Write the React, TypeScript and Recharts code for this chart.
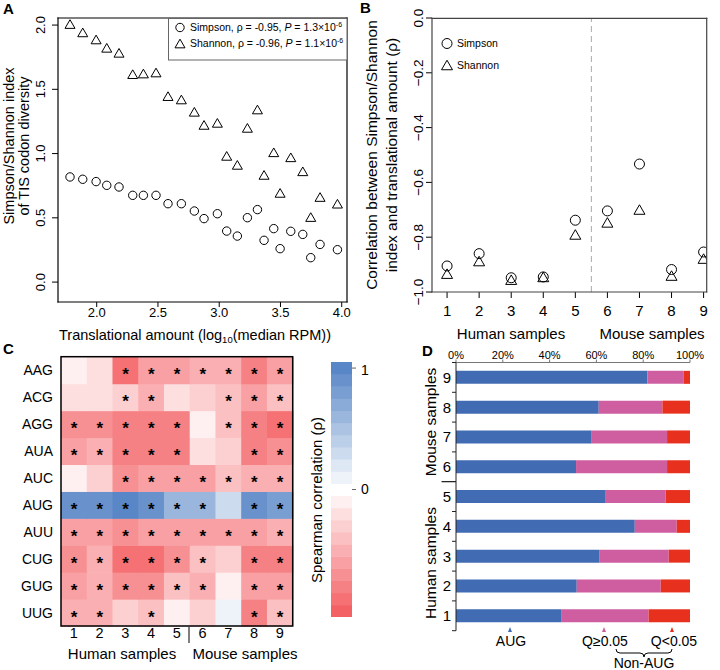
import {
  ScatterChart, Scatter, XAxis, YAxis, ReferenceLine,
  BarChart, Bar,
} from 'recharts'

const FONT = '"Liberation Sans", Arial, Helvetica, sans-serif'

// ---- panel A: diversity vs translational amount
const rpmLog = [1.782, 1.886, 1.995, 2.082, 2.182, 2.294, 2.381, 2.484, 2.582, 2.691, 2.797, 2.876, 2.985,
  3.061, 3.148, 3.230, 3.312, 3.366, 3.445, 3.497, 3.584, 3.682, 3.747, 3.823, 3.965]
const simpsonIdx = [0.818, 0.80, 0.782, 0.753, 0.740, 0.675, 0.675, 0.675, 0.61, 0.61, 0.553, 0.494, 0.532,
  0.397, 0.358, 0.501, 0.564, 0.325, 0.416, 0.26, 0.395, 0.371, 0.19, 0.293, 0.252]
const shannonIdx = [2.008, 1.943, 1.888, 1.823, 1.784, 1.618, 1.623, 1.631, 1.447, 1.421, 1.325, 1.223, 1.239,
  0.982, 0.912, 1.2, 1.343, 0.834, 1.01, 0.694, 0.971, 0.862, 0.506, 0.662, 0.61]
const aTicksX = [2, 2.5, 3, 3.5, 4]
const aTicksY = [0, 0.5, 1, 1.5, 2]

// ---- panel B: per-sample correlations
const sampleIds = [1, 2, 3, 4, 5, 6, 7, 8, 9]
const simpsonRho = [-0.905, -0.86, -0.948, -0.945, -0.738, -0.704, -0.533, -0.918, -0.854]
const shannonRho = [-0.933, -0.887, -0.955, -0.945, -0.79, -0.746, -0.699, -0.94, -0.878]
const bTicksY = [-1, -0.8, -0.6, -0.4, -0.2, 0]

// ---- panel C: heatmap (rows top to bottom)
const codons = ['AAG', 'ACG', 'AGG', 'AUA', 'AUC', 'AUG', 'AUU', 'CUG', 'GUG', 'UUG']
const rhoRows = [
  [-0.06, -0.2, -0.85, -0.6, -0.6, -0.5, -0.45, -0.8, -0.55],
  [-0.18, -0.18, -0.3, -0.5, -0.2, -0.25, -0.35, -0.6, -0.4],
  [-0.7, -0.65, -0.8, -0.8, -0.75, -0.12, -0.35, -0.75, -0.85],
  [-0.55, -0.5, -0.75, -0.75, -0.75, -0.18, -0.25, -0.75, -0.65],
  [-0.1, -0.25, -0.65, -0.55, -0.55, -0.6, -0.4, -0.5, -0.45],
  [0.85, 0.85, 0.95, 0.9, 0.6, 0.55, 0.3, 0.85, 0.75],
  [-0.55, -0.55, -0.65, -0.6, -0.55, -0.55, -0.55, -0.55, -0.45],
  [-0.7, -0.45, -0.85, -0.9, -0.65, -0.4, -0.3, -0.75, -0.75],
  [-0.55, -0.45, -0.65, -0.7, -0.35, -0.45, -0.1, -0.55, -0.6],
  [-0.5, -0.5, -0.25, -0.4, -0.05, -0.3, 0.1, -0.75, -0.4],
]
const sigCols = [
  [3, 4, 5, 6, 7, 8, 9],
  [3, 4, 7, 8, 9],
  [1, 2, 3, 4, 5, 7, 8, 9],
  [1, 2, 3, 4, 5, 8, 9],
  [3, 4, 5, 6, 7, 8, 9],
  [1, 2, 3, 4, 5, 6, 8, 9],
  [1, 2, 3, 4, 5, 6, 7, 8, 9],
  [1, 2, 3, 4, 5, 6, 8, 9],
  [1, 2, 3, 4, 5, 6, 8, 9],
  [1, 2, 4, 8, 9],
]
const cbarSteps = [-1, -0.9, -0.8, -0.7, -0.6, -0.5, -0.4, -0.3, -0.2, -0.1, 0,
  0.1, 0.2, 0.3, 0.4, 0.5, 0.6, 0.7, 0.8, 0.9, 1]

// ---- panel D: TIS codon composition (%)
const augPct = [44.9, 51.6, 61.4, 76.4, 64.0, 51.3, 58.0, 61.0, 81.8]
const qHighPct = [37.4, 35.9, 29.5, 17.9, 25.6, 38.9, 32.2, 27.2, 15.4]
const qLowPct = [17.7, 12.5, 9.1, 5.7, 10.4, 9.8, 9.8, 11.8, 2.8]
const dTicks = [0, 20, 40, 60, 80, 100]

const C_AUG = '#416bb3'
const C_HI = '#cf5ea0'
const C_LO = '#e8301f'

const RED = [244, 97, 101]
const BLUE = [88, 134, 198]
function heatColor(v: number) {
  const k = Math.min(10, Math.round(Math.abs(v) * 10))
  const base = v < 0 ? RED : BLUE
  const c = base.map((b) => Math.round(255 + (b - 255) * (k / 10)))
  return `rgb(${c.join(',')})`
}

const circleShape = (r: number) => (p: any) => (
  <circle cx={p.cx} cy={p.cy} r={r} fill="none" stroke="#000" strokeWidth={1} />
)
const triShape = (w: number) => (p: any) => {
  const h = w * 0.866
  return (
    <path
      d={`M${p.cx},${p.cy - h / 2}L${p.cx + w / 2},${p.cy + h / 2}L${p.cx - w / 2},${p.cy + h / 2}Z`}
      fill="none" stroke="#000" strokeWidth={1}
    />
  )
}

const rotTick = (fontSize: number, fmt: (v: number) => string) => (p: any) => (
  <text x={p.x} y={p.y} transform={`rotate(-90 ${p.x} ${p.y})`} textAnchor="middle" fontSize={fontSize} fill="#000">
    {fmt(p.payload.value)}
  </text>
)

function PanelA() {
  const simpson = rpmLog.map((x, i) => ({ x, y: simpsonIdx[i] }))
  const shannon = rpmLog.map((x, i) => ({ x, y: shannonIdx[i] }))
  return (
    <ScatterChart width={360} height={345} margin={{ top: 18, right: 13, bottom: 0, left: 0 }}>
      <XAxis type="number" dataKey="x" domain={[1.684, 4.043]} ticks={aTicksX} tickFormatter={(v: number) => v.toFixed(1)}
        height={43} tickSize={5} tickMargin={1} axisLine={false} tickLine={{ stroke: '#000' }}
        tick={{ fontSize: 13, fill: '#000' }} allowDataOverflow />
      <YAxis type="number" dataKey="y" domain={[-0.155, 2.055]} ticks={aTicksY} width={58} tickSize={6} tickMargin={7}
        axisLine={false} tickLine={{ stroke: '#000' }} tick={rotTick(13, (v) => v.toFixed(1))} allowDataOverflow />
      <Scatter data={simpson} shape={circleShape(4.2)} isAnimationActive={false} />
      <Scatter data={shannon} shape={triShape(10)} isAnimationActive={false} />
    </ScatterChart>
  )
}

function PanelB() {
  const simpson = sampleIds.map((x, i) => ({ x, y: simpsonRho[i] }))
  const shannon = sampleIds.map((x, i) => ({ x, y: shannonRho[i] }))
  return (
    <ScatterChart width={360} height={345} margin={{ top: 18, right: 13, bottom: 0, left: 0 }}>
      <XAxis type="number" dataKey="x" domain={[0.53, 9.106]} ticks={sampleIds} height={53} tickSize={6} tickMargin={7}
        axisLine={false} tickLine={{ stroke: '#000' }} tick={{ fontSize: 15, fill: '#000' }} allowDataOverflow />
      <YAxis type="number" dataKey="y" domain={[-1, 0]} ticks={bTicksY} width={72} tickSize={6} tickMargin={3}
        axisLine={false} tickLine={{ stroke: '#000' }}
        tick={rotTick(13.5, (v) => (v < -1e-9 ? '\u2212' : '') + Math.abs(v).toFixed(1))} allowDataOverflow />
      <ReferenceLine x={5.5} stroke="#aaa" strokeDasharray="6 4" />
      <Scatter data={simpson} shape={circleShape(5)} isAnimationActive={false} />
      <Scatter data={shannon} shape={triShape(11)} isAnimationActive={false} />
    </ScatterChart>
  )
}

function PanelC() {
  const table = sampleIds.map((s) => {
    const row: any = { s: String(s) }
    codons.forEach((c) => { row[c] = 1 })
    return row
  })
  const rowOrder = codons.map((_, i) => 9 - i) // bottom row first in the stack
  return (
    <BarChart width={300} height={330} data={table} margin={{ top: 16.7, right: 7.3, bottom: 0, left: 0 }}
      barCategoryGap={0} barGap={0}>
      <XAxis dataKey="s" height={44} tickLine={false} axisLine={false} tickSize={0} tickMargin={2}
        tick={{ fontSize: 14.5, fill: '#000' }} interval={0} />
      <YAxis type="number" domain={[0, 10]} ticks={[0.5, 1.5, 2.5, 3.5, 4.5, 5.5, 6.5, 7.5, 8.5, 9.5]}
        tickFormatter={(v: number) => codons[9 - Math.floor(v)]} width={61} tickLine={false} axisLine={false}
        tickSize={0} tickMargin={8} tick={{ fontSize: 14, fill: '#000' }} />
      {rowOrder.map((ri) => (
        <Bar key={codons[ri]} dataKey={codons[ri]} stackId="h" isAnimationActive={false}
          shape={(p: any) => {
            const col = Number(p.payload.s)
            const sig = sigCols[ri].includes(col)
            return (
              <g>
                <rect x={p.x} y={p.y} width={p.width + 0.6} height={p.height + 0.6} fill={heatColor(rhoRows[ri][col - 1])} />
                {sig && (
                  <text x={p.x + p.width / 2} y={p.y + p.height / 2 + 10} textAnchor="middle" fontSize={17} fontWeight="bold" fill="#000">*</text>
                )}
              </g>
            )
          }} />
      ))}
    </BarChart>
  )
}

function ColorBar() {
  const row: any = { k: 'cb' }
  cbarSteps.forEach((_, i) => { row['b' + i] = 1 })
  const labels: Record<string, string> = { '0.5': '-1', '10.5': '0', '20.5': '1' }
  return (
    <BarChart width={60} height={255} data={[row]} margin={{ top: 0, right: 0, bottom: 0, left: 0 }}
      barCategoryGap={0} barGap={0}>
      <XAxis dataKey="k" hide />
      <YAxis type="number" orientation="right" domain={[0, 21]} ticks={[0.5, 10.5, 20.5]}
        tickFormatter={(v: number) => labels[String(v)]} width={39} tickSize={4} tickMargin={5}
        axisLine={false} tickLine={{ stroke: '#666' }} tick={{ fontSize: 14, fill: '#000' }} />
      {cbarSteps.map((v, i) => (
        <Bar key={i} dataKey={'b' + i} stackId="c" fill={heatColor(v)} isAnimationActive={false}
          shape={(p: any) => <rect x={p.x} y={p.y} width={p.width} height={p.height + 0.5} fill={heatColor(v)} />} />
      ))}
    </BarChart>
  )
}

const D_TOP = 22.5
const D_BOTTOM = 39.3
const D_BAND = (330 - D_TOP - D_BOTTOM) / 9

const dTick = (p: any) => {
  const { x, y, payload } = p
  const v = String(payload.value)
  const yTop = y - D_BAND / 2
  return (
    <g>
      <text x={x - 9} y={y + 5.3} textAnchor="middle" fontSize={15} fill="#000">{v}</text>
      <line x1={x} x2={x - (v === '5' ? 14.3 : 4)} y1={yTop} y2={yTop} stroke="#222" />
      {v === '1' && <line x1={x} x2={x - 4} y1={y + D_BAND / 2} y2={y + D_BAND / 2} stroke="#222" />}
    </g>
  )
}

function PanelD() {
  const table = [...sampleIds].reverse().map((s) => ({
    s: String(s), aug: augPct[s - 1], hi: qHighPct[s - 1], lo: qLowPct[s - 1],
  }))
  return (
    <BarChart layout="vertical" width={360} height={330} data={table}
      margin={{ top: 0, right: 30, bottom: D_BOTTOM, left: 0 }} barCategoryGap="28%">
      <XAxis type="number" orientation="top" domain={[0, 100]} ticks={dTicks} tickFormatter={(v: number) => `${v}%`}
        height={D_TOP} tickSize={3} tickMargin={1} axisLine={{ stroke: '#777' }} tickLine={{ stroke: '#777' }}
        tick={{ fontSize: 11, fill: '#000' }} />
      <YAxis type="category" dataKey="s" width={96} axisLine={{ stroke: '#222' }} tickLine={false}
        tickSize={0} tickMargin={0} tick={dTick} interval={0} />
      <Bar dataKey="aug" stackId="d" fill={C_AUG} isAnimationActive={false} />
      <Bar dataKey="hi" stackId="d" fill={C_HI} isAnimationActive={false} />
      <Bar dataKey="lo" stackId="d" fill={C_LO} isAnimationActive={false} />
    </BarChart>
  )
}

function triPath(cx: number, cy: number, w: number) {
  const h = w * 0.866
  return `M${cx},${cy - h / 2}L${cx + w / 2},${cy + h / 2}L${cx - w / 2},${cy + h / 2}Z`
}

function Frame({ x1, y1, x2, y2, color }: { x1: number; y1: number; x2: number; y2: number; color: string }) {
  return (
    <g stroke={color} strokeWidth={1.2} strokeLinecap="square">
      <line x1={x1} y1={y1} x2={x2} y2={y1} />
      <line x1={x2} y1={y1} x2={x2} y2={y2} />
      <line x1={x2} y1={y2} x2={x1} y2={y2} />
      <line x1={x1} y1={y2} x2={x1} y2={y1} />
    </g>
  )
}

function Overlay() {
  return (
    <svg width={720} height={670} style={{ position: 'absolute', left: 0, top: 0, pointerEvents: 'none' }}
      fontFamily={FONT}>
      {/* panel letters */}
      <g fontWeight="bold" fontSize={15} fill="#000">
        <text x={3} y={13.5}>A</text>
        <text x={360} y={12.5}>B</text>
        <text x={3} y={353.5}>C</text>
        <text x={422} y={355.5}>D</text>
      </g>

      {/* plot frames of A and B */}
      <Frame x1={58} y1={18} x2={347} y2={302} color="#000" />
      <Frame x1={432} y1={18.3} x2={706.7} y2={292} color="#444" />

      {/* A legend */}
      <rect x={168.5} y={18.5} width={178.5} height={41.5} fill="#fff" stroke="#666" />
      <circle cx={180} cy={27.5} r={4.2} fill="none" stroke="#000" />
      <path d={triPath(180, 43.5, 10)} fill="none" stroke="#000" />
      <g fontSize={10.5} fill="#000">
        <text x={190} y={31.3}>Simpson, ρ = -0.95, <tspan fontStyle="italic">P</tspan> = 1.3×10<tspan dy={-4} fontSize={7}>-6</tspan></text>
        <text x={190} y={47.3}>Shannon, ρ = -0.96, <tspan fontStyle="italic">P</tspan> = 1.1×10<tspan dy={-4} fontSize={7}>-6</tspan></text>
      </g>

      {/* A axis titles */}
      <text x={195} y={340} fontSize={14.5} textAnchor="middle" fill="#000">
        Translational amount (log<tspan dy={3} fontSize={9.5}>10</tspan><tspan dy={-3}>(median RPM))</tspan>
      </text>
      <g fontSize={14.5} fill="#000" textAnchor="middle">
        <text x={13.5} y={146} transform="rotate(-90 13.5 146)">Simpson/Shannon index</text>
        <text x={29} y={146} transform="rotate(-90 29 146)">of TIS codon diversity</text>
      </g>

      {/* B legend and titles */}
      <circle cx={447} cy={43.5} r={5} fill="none" stroke="#000" />
      <path d={triPath(447, 65, 11)} fill="none" stroke="#000" />
      <g fontSize={10.5} fill="#000">
        <text x={457} y={47.3}>Simpson</text>
        <text x={457} y={69}>Shannon</text>
      </g>
      <g fontSize={15.5} fill="#000" textAnchor="middle">
        <text x={377} y={155} transform="rotate(-90 377 155)">Correlation between Simpson/Shannon</text>
        <text x={397} y={155} transform="rotate(-90 397 155)">index and translational amount (ρ)</text>
      </g>
      <g fontSize={15} fill="#000" textAnchor="middle">
        <text x={511} y={339}>Human samples</text>
        <text x={652} y={339}>Mouse samples</text>
      </g>

      {/* C frame and labels */}
      <rect x={61} y={356.7} width={231.7} height={269.3} fill="none" stroke="#000" strokeWidth={1.5} />
      <line x1={189} x2={189} y1={627} y2={643} stroke="#000" />
      <g fontSize={15} fill="#000" textAnchor="middle">
        <text x={122} y={659}>Human samples</text>
        <text x={245} y={659}>Mouse samples</text>
        <text x={322} y={500} transform="rotate(-90 322 500)">Spearman correlation (ρ)</text>
      </g>

      {/* D labels */}
      <line x1={441.7} x2={456} y1={481.6} y2={481.6} stroke="#222" />
      <g fontSize={15.5} fill="#000" textAnchor="middle">
        <text x={436} y={422} transform="rotate(-90 436 422)">Mouse samples</text>
        <text x={436} y={563} transform="rotate(-90 436 563)">Human samples</text>
      </g>
      <path d="M508,632L512,632L510,627Z" fill={C_AUG} />
      <path d="M602,632L606,632L604,627Z" fill={C_HI} />
      <path d="M670,632L674,632L672,627Z" fill={C_LO} />
      <g fontSize={14} fill="#000" textAnchor="middle">
        <text x={511} y={646}>AUG</text>
        <text x={605} y={646}>Q≥0.05</text>
        <text x={674} y={646}>Q&lt;0.05</text>
        <text x={644} y={668}>Non-AUG</text>
      </g>
      <path d="M616,649Q616,653 620,653L640,653Q644,653 644,657Q644,653 648,653L668,653Q672,653 672,649"
        fill="none" stroke="#000" />
    </svg>
  )
}

export default function App() {
  return (
    <div style={{ position: 'absolute', left: 0, top: 0, width: 720, height: 670, background: '#fff', fontFamily: FONT, overflow: 'hidden' }}>
      <div style={{ position: 'absolute', left: 0, top: 0 }}><PanelA /></div>
      <div style={{ position: 'absolute', left: 360, top: 0 }}><PanelB /></div>
      <div style={{ position: 'absolute', left: 0, top: 340 }}><PanelC /></div>
      <div style={{ position: 'absolute', left: 331, top: 361.7 }}><ColorBar /></div>
      <div style={{ position: 'absolute', left: 360, top: 340 }}><PanelD /></div>
      <Overlay />
    </div>
  )
}
